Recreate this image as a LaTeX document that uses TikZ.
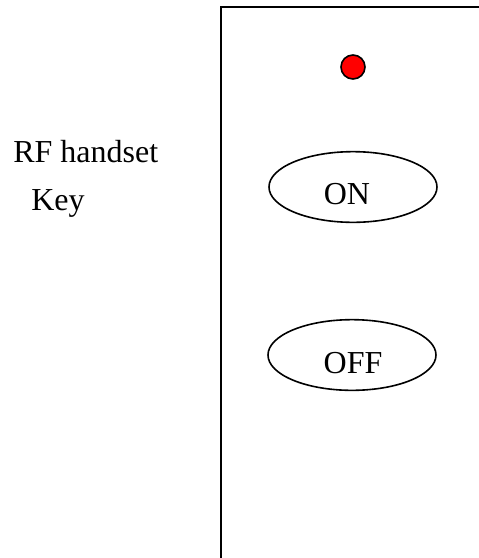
\documentclass[tikz,border=0pt]{standalone}
\usepackage{fontspec}
\setmainfont{Liberation Serif}
\usetikzlibrary{shapes.geometric}

\tikzset{
  keyoval/.style={draw, line width=1.2pt, ellipse, minimum width=126pt, minimum height=53pt, inner sep=0pt},
  lamp/.style={draw, line width=1.2pt, circle, fill=red, minimum size=18pt, inner sep=0pt},
  caption/.style={anchor=base west, inner sep=0pt, font=\fontsize{24}{28}\selectfont},
  keytext/.style={anchor=base, inner sep=0pt, font=\fontsize{24}{28}\selectfont}
}

\begin{document}
\begin{tikzpicture}[x=0.75pt, y=-0.75pt]
    \useasboundingbox (0,0) rectangle (479,558);
    \clip (0,0) rectangle (479,558);

    % handset body
    \draw[line width=1.5pt] (221,7) rectangle (520,600);

    \node[caption] (rf)  at (13,162) {RF handset};
    \node[caption] (key) at (31,210) {Key};

    \node[lamp] (led) at (353,67) {};

    \node[keyoval] (on)  at (353,187) {};
    \node[keytext] (ontext) at (347,204) {ON};

    \node[keyoval] (off) at (352,355) {};
    \node[keytext] (offtext) at (353,373) {OFF};
\end{tikzpicture}
\end{document}
